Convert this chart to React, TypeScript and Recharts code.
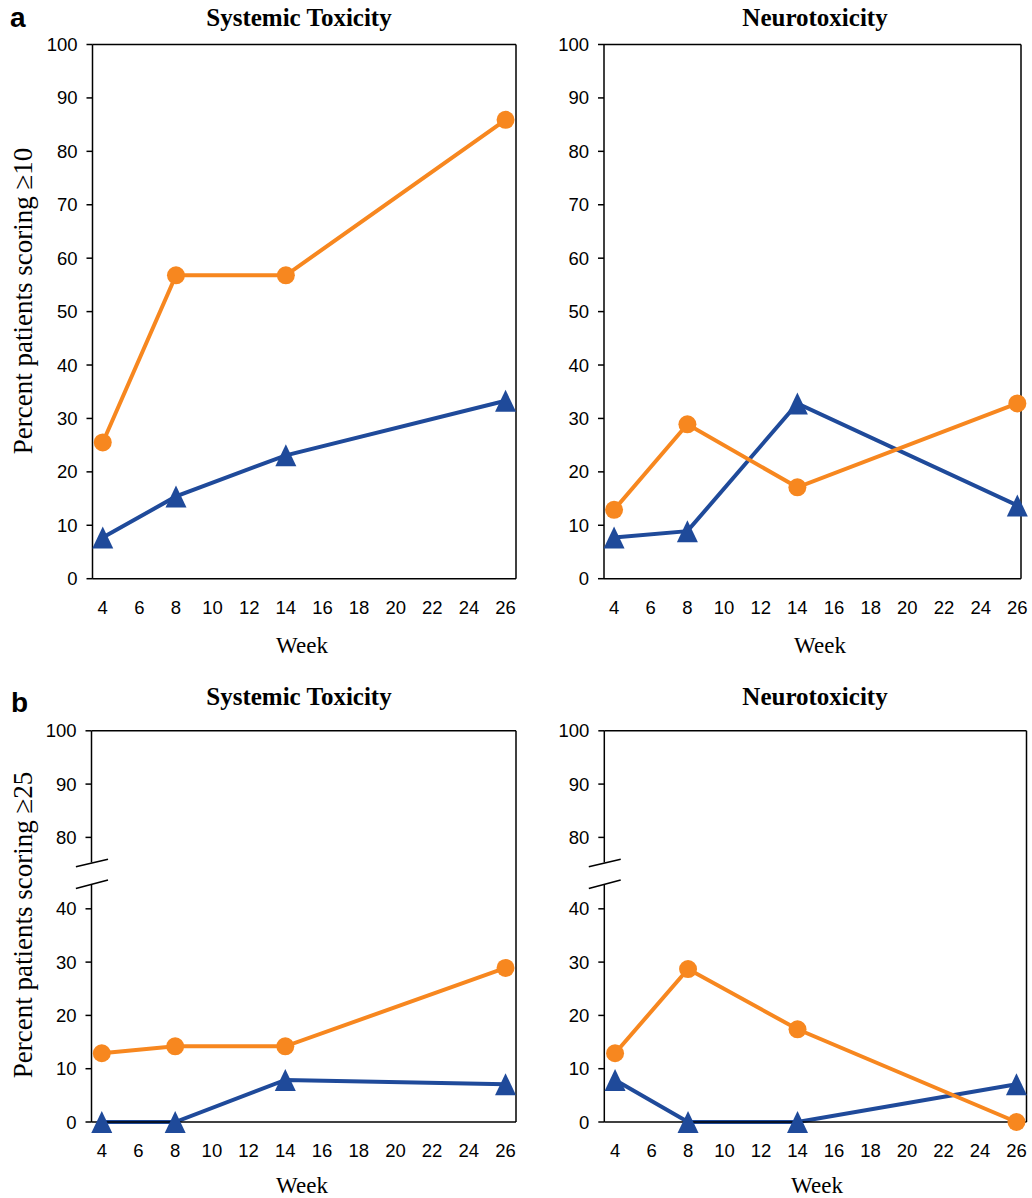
import React from 'react';
import { LineChart, Line, XAxis, YAxis, ReferenceLine } from 'recharts';

const weeks = [4, 8, 14, 26];
const weekTicks = [4, 6, 8, 10, 12, 14, 16, 18, 20, 22, 24, 26];

// a: percent of patients scoring >= 10
const systemic10Orange = [25.5, 56.8, 56.8, 85.9];
const systemic10Blue = [7.7, 15.4, 23.1, 33.3];
const neuro10Orange = [12.9, 28.9, 17.1, 32.8];
const neuro10Blue = [7.7, 8.9, 32.8, 13.7];

// b: percent of patients scoring >= 25
const systemic25Orange = [12.9, 14.2, 14.2, 28.9];
const systemic25Blue = [0, 0, 7.9, 7.1];
const neuro25Orange = [12.9, 28.7, 17.4, 0];
const neuro25Blue = [7.9, 0, 0, 7.1];

const fullTicks = [0, 10, 20, 30, 40, 50, 60, 70, 80, 90, 100];
const brokenTicks = [0, 10, 20, 30, 40, 80, 90, 100];

// the b panels skip the 45..75 stretch of the y axis
const BREAK_SHIFT = 26.6;
const toBroken = (v: number) => (v > 60 ? v - BREAK_SHIFT : v);
const brokenPositions = brokenTicks.map(toBroken);

const ORANGE = '#F7871F';
const BLUE = '#1F4A9A';
const TICK_FONT = { fontSize: 18.5, fontFamily: '"Liberation Sans", Arial, sans-serif', fill: '#000' };
const SERIF = '"Liberation Serif", "Times New Roman", serif';

const Triangle = (props: any) => {
  const { cx, cy, index } = props;
  if (cx == null || cy == null) return <g key={index} />;
  const w = 21;
  const h = 22;
  return (
    <path
      key={index}
      d={`M${cx},${cy - h / 2} L${cx + w / 2},${cy + h / 2} L${cx - w / 2},${cy + h / 2} Z`}
      fill={BLUE}
    />
  );
};

interface PanelProps {
  left: number;
  top: number;
  width: number;
  height: number;
  plot: { x: number; y: number; w: number; h: number };
  xDomain: [number, number];
  orange: number[];
  blue: number[];
  broken?: boolean;
}

const Panel: React.FC<PanelProps> = ({ left, top, width, height, plot, xDomain, orange, blue, broken }) => {
  const data = weeks.map((w, i) => ({
    week: w,
    orange: broken ? toBroken(orange[i]) : orange[i],
    blue: broken ? toBroken(blue[i]) : blue[i],
  }));
  const yTicks = broken ? brokenPositions : fullTicks;
  const yMax = broken ? toBroken(100) : 100;
  const xMin = xDomain[0];
  const line = { stroke: '#000', strokeWidth: 1.5 };

  const fmt = (v: number) => {
    if (!broken) return String(v);
    const i = brokenPositions.findIndex((p) => Math.abs(p - v) < 0.01);
    return i >= 0 ? String(brokenTicks[i]) : '';
  };

  return (
    <div style={{ position: 'absolute', left, top, width, height }}>
      <LineChart
        width={width}
        height={height}
        data={data}
        margin={{ top: plot.y - top, left: 0, right: left + width - (plot.x + plot.w), bottom: 0 }}
      >
        <XAxis
          dataKey="week"
          type="number"
          domain={xDomain}
          ticks={weekTicks}
          interval={0}
          tickLine={false}
          tickSize={0}
          tickMargin={22}
          axisLine={line}
          tick={TICK_FONT}
          height={top + height - (plot.y + plot.h)}
        />
        <YAxis
          type="number"
          domain={[0, yMax]}
          ticks={yTicks}
          interval={0}
          tickFormatter={fmt}
          tickSize={6}
          tickMargin={9}
          tickLine={line}
          axisLine={broken ? false : line}
          tick={TICK_FONT}
          width={plot.x - left}
        />
        <ReferenceLine y={yMax} stroke="#000" strokeWidth={1.5} ifOverflow="visible" />
        <ReferenceLine x={xDomain[1]} stroke="#000" strokeWidth={1.5} ifOverflow="visible" />
        {broken && (
          <>
            <ReferenceLine segment={[{ x: xMin, y: 0 }, { x: xMin, y: 44.5 }]} stroke="#000" strokeWidth={1.5} ifOverflow="visible" />
            <ReferenceLine segment={[{ x: xMin, y: 48.7 }, { x: xMin, y: yMax }]} stroke="#000" strokeWidth={1.5} ifOverflow="visible" />
            <ReferenceLine segment={[{ x: xMin - 0.85, y: 43.8 }, { x: xMin + 0.9, y: 45.4 }]} stroke="#000" strokeWidth={1.5} ifOverflow="visible" />
            <ReferenceLine segment={[{ x: xMin - 0.85, y: 47.9 }, { x: xMin + 0.9, y: 49.3 }]} stroke="#000" strokeWidth={1.5} ifOverflow="visible" />
          </>
        )}
        <Line
          dataKey="blue"
          stroke={BLUE}
          strokeWidth={4}
          dot={(p: any) => <Triangle {...p} key={p.index} />}
          activeDot={false}
          isAnimationActive={false}
        />
        <Line
          dataKey="orange"
          stroke={ORANGE}
          strokeWidth={4}
          dot={{ r: 9, fill: ORANGE, stroke: 'none' }}
          activeDot={false}
          isAnimationActive={false}
        />
      </LineChart>
    </div>
  );
};

const App: React.FC = () => {
  const titleStyle = { fontFamily: SERIF, fontWeight: 700, fontSize: 25, fill: '#000' };
  const labelStyle = { fontFamily: SERIF, fontSize: 23, fill: '#000' };
  const yLabelStyle = { fontFamily: SERIF, fontSize: 27, fill: '#000' };
  const letterStyle = { fontFamily: '"Liberation Sans", Arial, sans-serif', fontWeight: 700, fontSize: 28, fill: '#000' };

  return (
    <div style={{ position: 'absolute', left: 0, top: 0, width: 1032, height: 1198, background: '#fff' }}>
      <Panel
        left={0} top={0} width={530} height={660}
        plot={{ x: 92.5, y: 44.5, w: 423.5, h: 534.2 }}
        xDomain={[3.44, 26.57]}
        orange={systemic10Orange} blue={systemic10Blue}
      />
      <Panel
        left={530} top={0} width={502} height={660}
        plot={{ x: 604, y: 44.5, w: 417, h: 534.2 }}
        xDomain={[3.45, 26.2]}
        orange={neuro10Orange} blue={neuro10Blue}
      />
      <Panel
        left={0} top={660} width={530} height={538}
        plot={{ x: 91.5, y: 730.8, w: 424.5, h: 391.2 }}
        xDomain={[3.44, 26.57]}
        orange={systemic25Orange} blue={systemic25Blue}
        broken
      />
      <Panel
        left={530} top={660} width={502} height={538}
        plot={{ x: 604.3, y: 730.8, w: 422.2, h: 391.2 }}
        xDomain={[3.41, 26.55]}
        orange={neuro25Orange} blue={neuro25Blue}
        broken
      />
      <svg width={1032} height={1198} style={{ position: 'absolute', left: 0, top: 0, pointerEvents: 'none' }}>
        <text x={10} y={27} style={letterStyle}>a</text>
        <text x={11} y={712} style={letterStyle}>b</text>

        <text x={299} y={26} textAnchor="middle" style={titleStyle}>Systemic Toxicity</text>
        <text x={815} y={26} textAnchor="middle" style={titleStyle}>Neurotoxicity</text>
        <text x={299} y={705} textAnchor="middle" style={titleStyle}>Systemic Toxicity</text>
        <text x={815} y={705} textAnchor="middle" style={titleStyle}>Neurotoxicity</text>

        <text x={302} y={653} textAnchor="middle" style={labelStyle}>Week</text>
        <text x={820} y={653} textAnchor="middle" style={labelStyle}>Week</text>
        <text x={302} y={1193} textAnchor="middle" style={labelStyle}>Week</text>
        <text x={817} y={1193} textAnchor="middle" style={labelStyle}>Week</text>

        <text x={32} y={301} textAnchor="middle" transform="rotate(-90 32 301)" style={yLabelStyle}>
          Percent patients scoring ≥10
        </text>
        <text x={32} y={925} textAnchor="middle" transform="rotate(-90 32 925)" style={yLabelStyle}>
          Percent patients scoring ≥25
        </text>
      </svg>
    </div>
  );
};

export default App;
